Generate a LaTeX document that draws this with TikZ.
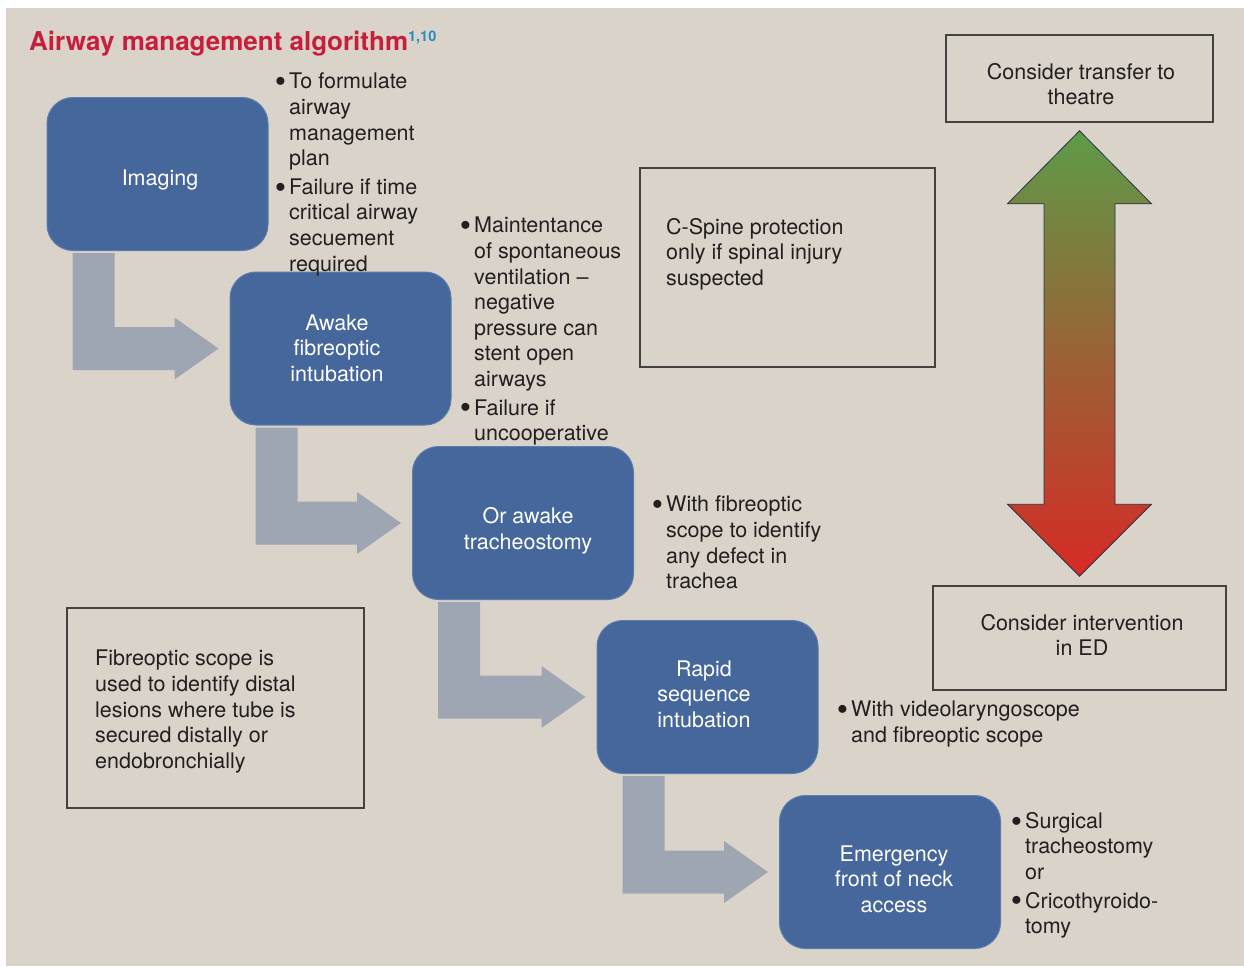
\documentclass[tikz,border=0pt]{standalone}
\usepackage{fontspec}
\setmainfont{TeX Gyre Heros}
\usetikzlibrary{calc}
\definecolor{bg}{RGB}{218,211,201}
\definecolor{boxblue}{RGB}{70,103,155}
\definecolor{boxedge}{RGB}{92,124,172}
\definecolor{arrowgrey}{RGB}{158,166,180}
\definecolor{txt}{RGB}{35,31,32}
\definecolor{titlered}{RGB}{200,30,62}
\definecolor{refblue}{RGB}{40,140,192}
\definecolor{agreen}{RGB}{94,155,72}
\definecolor{abrown}{RGB}{142,88,42}
\definecolor{ared}{RGB}{214,42,38}
\definecolor{anavy}{RGB}{40,50,75}
\newcommand{\bul}{\llap{\raisebox{-3.8pt}{\scalebox{1.5}{\textbullet}}\hspace{3pt}}}
\newcommand{\bodyfont}{\fontsize{21.5}{25.6}\selectfont}
\tikzset{
  stepbox/.style={rounded corners=26pt, fill=boxblue, draw=boxedge, line width=1pt,
    minimum width=221pt, minimum height=153pt, inner sep=0pt},
  steptext/.style={text=white, align=center, font=\bodyfont, inner sep=0pt},
  notebox/.style={draw=txt!85, line width=1.5pt, inner sep=0pt},
  notetext/.style={text=txt, align=left, font=\bodyfont, inner sep=0pt, anchor=north west},
  ctext/.style={text=txt, align=center, font=\bodyfont, inner sep=0pt},
  bentarrow/.style={fill=arrowgrey}
}
\newcommand{\bentarrow}[2]{%
  \path let \p1=(#1.south west), \p2=(#2.west) in [bentarrow]
    (\x1+26pt,\y1-2pt) -- (\x1+68pt,\y1-2pt) -- (\x1+68pt,\y2+21.5pt)
    -- (\x2-55pt,\y2+21.5pt) -- (\x2-55pt,\y2+31pt) -- (\x2-11pt,\y2)
    -- (\x2-55pt,\y2-31pt) -- (\x2-55pt,\y2-21.5pt) -- (\x1+26pt,\y2-21.5pt) -- cycle;}
\begin{document}
\begin{tikzpicture}[x=1pt,y=-1pt]
\useasboundingbox (0,0) rectangle (1244,966);
\fill[white] (0,0) rectangle (1244,966);
\fill[bg] (6,8) rectangle (1244,966);

% title
\node[anchor=base west, inner sep=0pt, text=titlered, font=\fontsize{26}{30}\selectfont\bfseries] (title) at (29,51)
  {Airway management algorithm\raisebox{9pt}{\textcolor{refblue}{\fontsize{14.5}{16}\selectfont 1,10}}};

% blue step boxes
\node[stepbox] (img) at (157.5,174) {};
\node[steptext] (imgt) at (160,180) {Imaging};
\node[stepbox] (afi) at (340.5,348.5) {};
\node[steptext] (afit) at (337,348) {Awake\\fibreoptic\\intubation};
\node[stepbox] (oat) at (523,523) {};
\node[steptext] (oatt) at (528,531) {Or awake\\tracheostomy};
\node[stepbox] (rsi) at (707.5,697) {};
\node[steptext] (rsit) at (704,694) {Rapid\\sequence\\intubation};
\node[stepbox] (efn) at (890,872) {};
\node[steptext] (efnt) at (894,879) {Emergency\\front of neck\\access};

% bent grey arrows
\bentarrow{img}{afi}
\bentarrow{afi}{oat}
\bentarrow{oat}{rsi}
\bentarrow{rsi}{efn}

% bullet notes
\node[notetext] (n1) at (289,73) {\bul To formulate\\airway\\management\\plan\\[3pt]\bul Failure if time\\critical airway\\secuement\\required};
\node[notetext] (n2) at (474,217) {\bul Maintentance\\of spontaneous\\ventilation –\\negative\\pressure can\\stent open\\airways\\[3pt]\bul Failure if\\uncooperative};
\node[notetext] (n3) at (666,496) {\bul With fibreoptic\\scope to identify\\any defect in\\trachea};
\node[notetext] (n4) at (851,701) {\bul With videolaryngoscope\\and fibreoptic scope};
\node[notetext] (n5) at (1025,812) {\bul Surgical\\tracheostomy\\or\\[3pt]\bul Cricothyroido-\\tomy};

% outlined boxes
\draw[notebox] (640,168) rectangle (935,367);
\node[notetext] (cs) at (666,218) {C-Spine protection\\only if spinal injury\\suspected};
\draw[notebox] (67,608) rectangle (364,808);
\node[notetext] (fs) at (95,650) {Fibreoptic scope is\\used to identify distal\\lesions where tube is\\secured distally or\\endobronchially};

\node[notebox, minimum width=267pt, minimum height=87pt] (tt) at (1079.5,78.5) {};
\node[ctext] (ttt) at (1081,84) {Consider transfer to\\theatre};
\node[notebox, minimum width=293pt, minimum height=104pt] (ie) at (1079.5,638) {};
\node[ctext] (iet) at (1082,635) {Consider intervention\\in ED};

% double arrow
\path let \p1=(tt.south), \p2=(ie.north) in
  [top color=agreen, middle color=abrown, bottom color=ared, draw=anavy, line width=0.8pt]
  (\x1,\y1-8pt) -- (\x1+72pt,\y1-81pt) -- (\x1+35.5pt,\y1-81pt) -- (\x1+35.5pt,\y2+81pt)
  -- (\x1+72pt,\y2+81pt) -- (\x2,\y2+9pt) -- (\x1-72pt,\y2+81pt) -- (\x1-35.5pt,\y2+81pt)
  -- (\x1-35.5pt,\y1-81pt) -- (\x1-72pt,\y1-81pt) -- cycle;
\end{tikzpicture}
\end{document}
